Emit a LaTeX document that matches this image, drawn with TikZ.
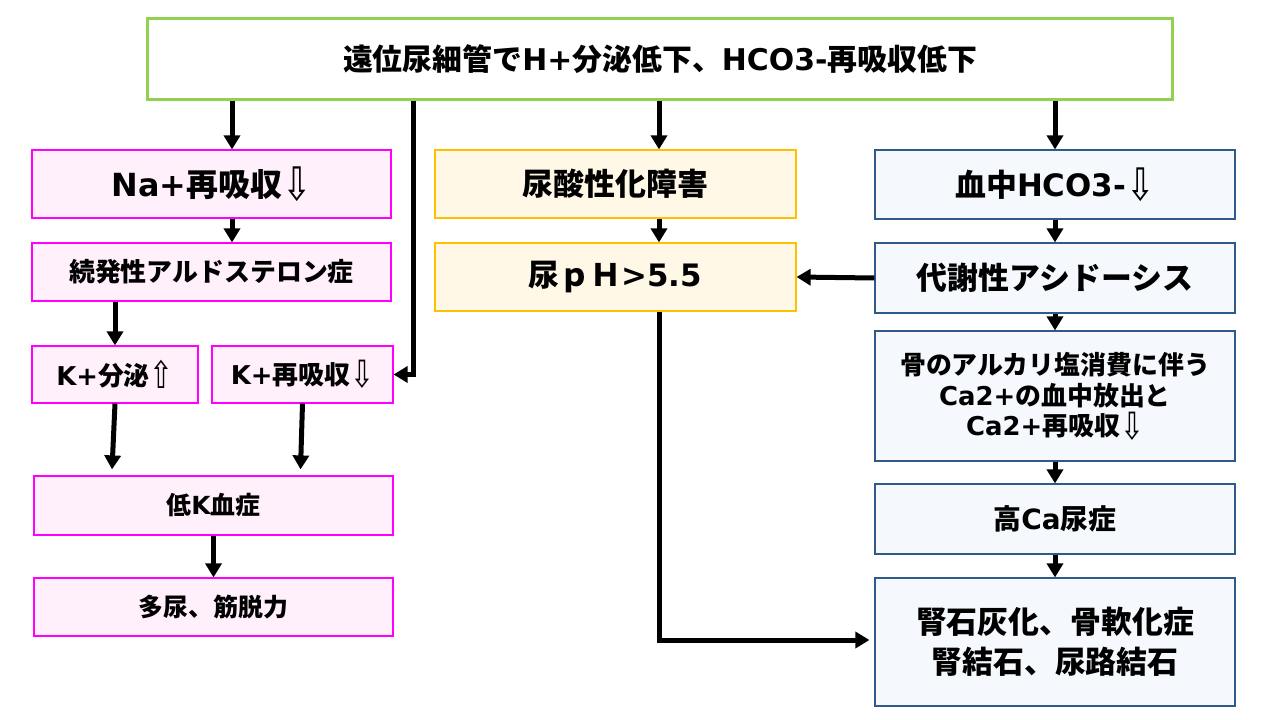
\documentclass[tikz,border=0pt]{standalone}
\usepackage{fontspec}
\usepackage{xcolor}
\usetikzlibrary{arrows.meta, positioning}
\setmainfont{Noto Sans CJK JP}
\newfontfamily\latinfont{DejaVu Sans}
\newcommand{\en}[1]{{\latinfont #1}}
\newcommand{\arrdn}{\raisebox{-0.12em}{\scalebox{1.1}[1.45]{\latinfont\mdseries ⇩}}}
\newcommand{\arrup}{\raisebox{-0.12em}{\scalebox{1.1}[1.45]{\latinfont\mdseries ⇧}}}
\definecolor{topgreen}{HTML}{92D050}
\definecolor{kmagenta}{HTML}{FF00FF}
\definecolor{kpink}{HTML}{FFF0FC}
\definecolor{uorange}{HTML}{FFC000}
\definecolor{ucream}{HTML}{FFF8E6}
\definecolor{bnavy}{HTML}{2F5A8A}
\definecolor{bpale}{HTML}{F5F8FC}

\begin{document}
\begin{tikzpicture}[
  x=1bp, y=-1bp,
  font=\bfseries,
  topbox/.style={
    draw=topgreen,
    line width=3bp,
    fill=white,
    minimum width=1024bp,
    minimum height=81bp,
    inner sep=0pt,
  },
  kbox/.style={
    draw=kmagenta,
    line width=1.2bp,
    fill=kpink,
    inner sep=0pt,
    align=center,
  },
  ubox/.style={
    draw=uorange,
    line width=1.2bp,
    fill=ucream,
    minimum width=361bp,
    minimum height=68bp,
    inner sep=0pt,
    align=center,
  },
  bbox/.style={
    draw=bnavy,
    line width=1.2bp,
    fill=bpale,
    minimum width=360bp,
    inner sep=0pt,
    align=center,
  },
  arr/.style={
    line width=5bp,
    -{Triangle[width=16bp,length=14bp]},
  },
  fs/.style={font=\bfseries\fontsize{#1}{#1}\selectfont},
]
  \useasboundingbox (0,0) rectangle (1280,720);

  % === top cause ===
  \node[topbox, fs=30] (top) at (660,59) {遠位尿細管で\en{H+}分泌低下、\en{HCO3-}再吸収低下};

  % === left column: potassium ===
  \node[kbox, minimum width=359bp, minimum height=68bp, fs=32] (na) at (211.5,184) {\en{Na+}再吸収\arrdn};
  \node[kbox, minimum width=359bp, minimum height=58bp, fs=26] (sec) at (211.5,272) {続発性アルドステロン症};
  \node[kbox, minimum width=166bp, minimum height=57bp, fs=26] (ksec) at (115,374.5) {\en{K+}分泌\arrup};
  \node[kbox, minimum width=181bp, minimum height=57bp, fs=26] (kre) at (302.5,374.5) {\en{K+}再吸収\arrdn};
  \node[kbox, minimum width=359bp, minimum height=59bp, fs=25] (lowk) at (213.5,505.5) {低\en{K}血症};
  \node[kbox, minimum width=359bp, minimum height=58bp, fs=25] (poly) at (213.5,607) {多尿、筋脱力};

  % === middle column: urine ===
  \node[ubox, fs=31] (acid) at (615.5,184) {尿酸性化障害};
  \node[ubox, fs=31] (ph) at (615.5,277) {尿ｐＨ\en{>5.5}};

  % === right column: blood ===
  \node[bbox, minimum height=69bp, fs=31] (hco) at (1055,184.5) {血中\en{HCO3-}\arrdn};
  \node[bbox, minimum height=70bp, fs=31] (meta) at (1055,278) {代謝性アシドーシス};
  \node[bbox, minimum height=130bp, font=\bfseries\fontsize{26}{31}\selectfont] (bone) at (1055,396)
    {骨のアルカリ塩消費に伴う\\\en{Ca2+}の血中放出と\\\en{Ca2+}再吸収\arrdn};
  \node[bbox, minimum height=70bp, fs=28] (hca) at (1055,519) {高\en{Ca}尿症};
  \node[bbox, minimum height=128bp, font=\bfseries\fontsize{31}{40}\selectfont] (stone) at (1055,642)
    {腎石灰化、骨軟化症\\腎結石、尿路結石};

  % x positions of the drop lines
  \coordinate (xl) at (232,0);
  \coordinate (xk) at (413,0);
  \coordinate (xm) at (659,0);

  % === connectors ===
  \draw[arr] (top.south -| xl) -- (na.north -| xl);
  \draw[arr] (na.south -| xl) -- (sec.north -| xl);
  \draw[arr] (sec.south -| ksec) -- (ksec.north);
  \draw[arr] (top.south -| xk) |- (kre.east);
  \draw[arr] (ksec.south) -- ([xshift=-3bp,yshift=6bp]lowk.north -| ksec.south);
  \draw[arr] (kre.south) -- ([xshift=-2bp,yshift=6bp]lowk.north -| kre.south);
  \draw[arr] (lowk.south) -- (poly.north);

  \draw[arr] (top.south -| xm) -- (acid.north -| xm);
  \draw[arr] (acid.south -| xm) -- (ph.north -| xm);
  \draw[arr, shorten >=5bp] (ph.south -| xm) |- ([yshift=2bp]stone.west);

  \draw[arr] (top.south -| hco) -- (hco.north);
  \draw[arr] (hco.south) -- (meta.north);
  \draw[arr] (meta.west) -- (ph.east);
  \draw[arr] (meta.south) -- (bone.north);
  \draw[arr] (bone.south) -- (hca.north);
  \draw[arr] (hca.south) -- (stone.north);

\end{tikzpicture}
\end{document}
